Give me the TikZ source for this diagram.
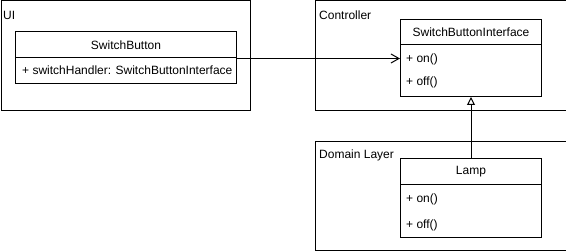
\documentclass[tikz,border=0pt]{standalone}
\usepackage{fontspec}
\setmainfont{Liberation Sans}
\usetikzlibrary{arrows.meta}
\begin{document}
\begin{tikzpicture}[x=1pt,y=-1pt,
  box/.style={draw, line width=1pt, inner sep=0pt, anchor=north west},
  txt/.style={inner sep=0pt, font=\fontsize{12pt}{14pt}\selectfont},
  lbl/.style={txt, anchor=west},
  openarrow/.style={-{Straight Barb[length=8pt,width=9pt,line width=1pt]}},
  inherit/.style={-{Triangle[open,length=8pt,width=8pt,line width=1pt]}}]
\useasboundingbox (0,0) rectangle (566,251);
% frames
\node[box, minimum width=249pt, minimum height=109.5pt] (ui) at (0.5,0.5) {};
\node[box, minimum width=250.5pt, minimum height=109.5pt] (ctrl) at (315,0.5) {};
\node[box, minimum width=250.5pt, minimum height=109pt] (dom) at (315,141) {};
\node[lbl] (uilbl) at (3,15) {UI};
\node[lbl] (ctrllbl) at (319,15) {Controller};
\node[lbl] (domlbl) at (319,155) {Domain Layer};
% SwitchButton
\node[box, minimum width=221pt, minimum height=26.5pt, txt, anchor=north west] (sbhead) at (15,31) {SwitchButton};
\node[box, minimum width=221pt, minimum height=25.5pt] (sbbody) at (15,57.5) {};
\node[lbl] (sbattr) at (22,70) {+ switchHandler: SwitchButtonInterface};
% SwitchButtonInterface
\node[box, minimum width=141pt, minimum height=25pt, txt, anchor=north west] (sbihead) at (400,19) {SwitchButtonInterface};
\node[box, minimum width=141pt, minimum height=52pt] (sbibody) at (400,44) {};
\node[lbl] (sbion) at (406,59) {+ on()};
\node[lbl] (sbioff) at (406,82) {+ off()};
% Lamp
\node[box, minimum width=141pt, minimum height=26pt, txt, anchor=north west] (lamphead) at (400,158) {Lamp};
\node[box, minimum width=141pt, minimum height=53pt] (lampbody) at (400,184) {};
\node[lbl] (lampon) at (406,199) {+ on()};
\node[lbl] (lampoff) at (406,225) {+ off()};
% connectors
\draw[line width=1pt, openarrow] (sbhead.south east) -- (sbhead.south east -| sbibody.west);
\draw[line width=1pt, inherit] (lamphead.north) -- (sbibody.south);
\end{tikzpicture}
\end{document}
